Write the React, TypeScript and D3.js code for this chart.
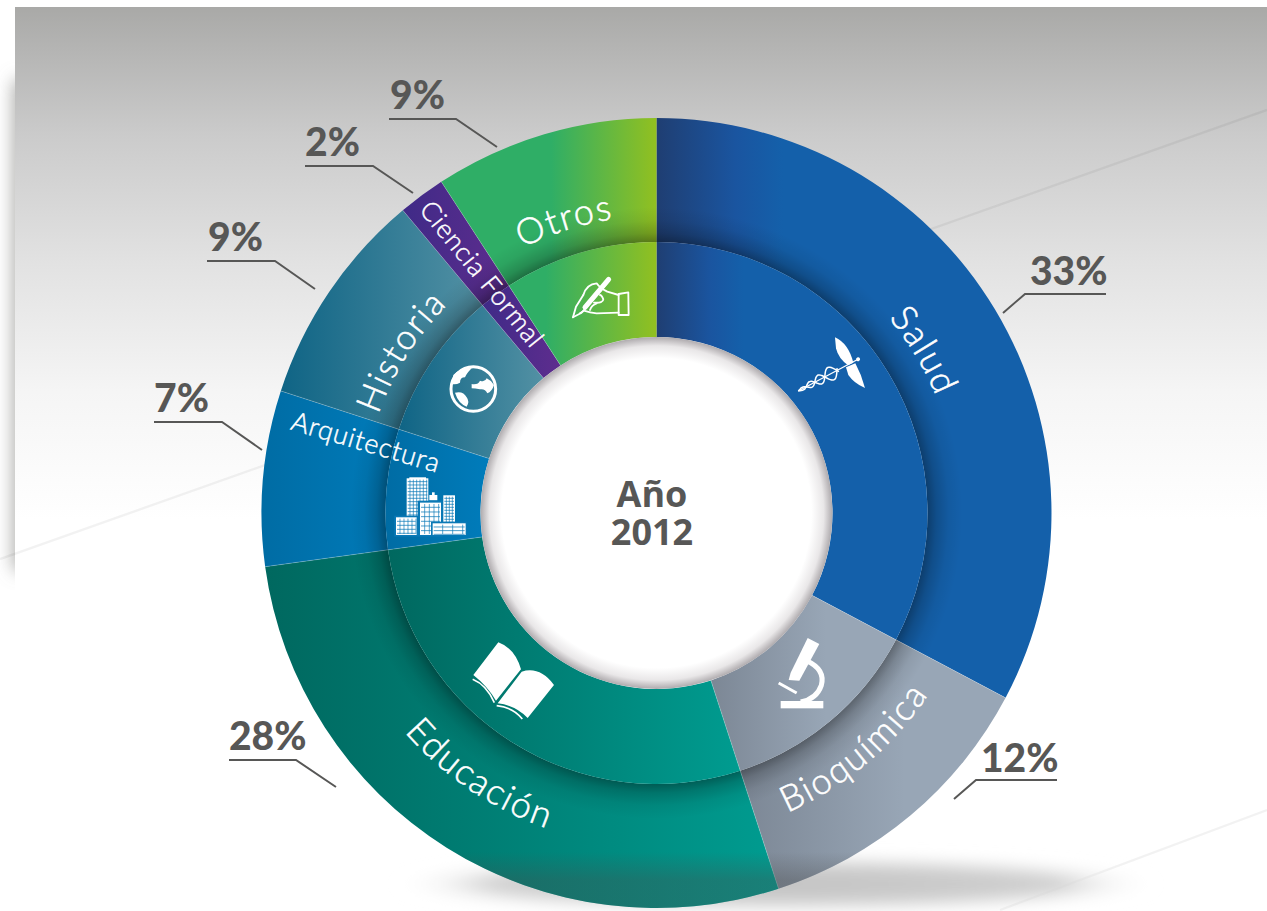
import React from "react";
import * as d3 from "d3";

const categories = ["Salud", "Bioquímica", "Educación", "Arquitectura", "Historia", "Ciencia Formal", "Otros"];
const values = [32.75, 12.25, 27.83, 7.17, 8.9, 1.93, 9.17];
const centerLines = ["Año", "2012"];

const gradStart = ["#1f3e72", "#7c8795", "#00685f", "#006ca4", "#0f6485", "#3f2a87", "#2fae66"];
const gradEnd = ["#1460aa", "#98a6b6", "#009c90", "#007cbb", "#5391a4", "#5e2d8e", "#92c020"];
const gradMid = [0.32, 0.62, 1, 1, 1, 1, 1];

const W = 1267, H = 911, CX = 656.5, CY = 513;
const R_OUT = 395, R_MID = 271, R_IN = 176;

const curved = [
  { i: 0, r: 303, deg: 58.8, flip: false, size: 36 },
  { i: 1, r: 327, deg: 140.0, flip: true, size: 36 },
  { i: 2, r: 334, deg: 214.0, flip: true, size: 36 },
  { i: 4, r: 295, deg: 302.3, flip: false, size: 35 },
  { i: 6, r: 297, deg: 342.5, flip: false, size: 36 },
];
const straight = [
  { i: 3, x: 366, y: 442, rot: 16.5, size: 27 },
  { i: 5, x: 482, y: 274, rot: 51, size: 26.5 },
];
const leaders = [
  { i: 0, pts: [[1003, 313], [1025, 294], [1106, 294]], tx: 1030, ty: 285 },
  { i: 1, pts: [[954, 799], [976, 780], [1057, 780]], tx: 981, ty: 772 },
  { i: 2, pts: [[229, 760], [296, 760], [336, 787]], tx: 229, ty: 750 },
  { i: 3, pts: [[154, 422], [222, 422], [262, 450]], tx: 154, ty: 412 },
  { i: 4, pts: [[207, 261], [275, 261], [315, 289]], tx: 208, ty: 251 },
  { i: 5, pts: [[305, 166], [373, 166], [413, 193]], tx: 305, ty: 156 },
  { i: 6, pts: [[389, 119], [456, 119], [497, 147]], tx: 390, ty: 109 },
];

const pie = d3.pie<number>().sort(null).value((d) => d);
const arcs = pie(values);
const outerArc = d3.arc<any>().innerRadius(R_MID).outerRadius(R_OUT);
const innerArc = d3.arc<any>().innerRadius(R_IN).outerRadius(R_MID);
const lineGen = d3.line();

function arcLabelPath(r: number, deg: number, flip: boolean) {
  const mid = ((deg - 90) * Math.PI) / 180;
  const span = 1.0;
  const p = d3.path();
  if (!flip) {
    p.moveTo(r * Math.cos(mid - span), r * Math.sin(mid - span));
    p.arc(0, 0, r, mid - span, mid + span, false);
  } else {
    p.moveTo(r * Math.cos(mid + span), r * Math.sin(mid + span));
    p.arc(0, 0, r, mid + span, mid - span, true);
  }
  return p.toString();
}

function Book() {
  return (
    <g transform="translate(460,630) scale(0.3333)" fill="#fff" stroke="none">
      <path d="M115 37 Q165 55 183 118 L108 212 Q82 168 40 135 Z" />
      <path d="M185 125 Q240 108 282 165 L203 264 Q165 226 113 220 Z" />
      <path d="M38 148 Q80 165 103 218" fill="none" stroke="#fff" strokeWidth="5" />
      <path d="M110 227 Q160 232 187 267" fill="none" stroke="#fff" strokeWidth="5" />
    </g>
  );
}

function Microscope() {
  return (
    <g transform="translate(760,650) scale(0.3333)" fill="#fff">
      <rect x="62" y="153" width="128" height="22" />
      <path d="M140 32 Q197 58 184 106 Q170 147 122 156" fill="none" stroke="#fff" strokeWidth="15" />
      <path d="M143 -36 L178 -18 L118 92 L86 90 L92 68 Z" />
      <path d="M56 99 L110 129" stroke="#fff" strokeWidth="9" fill="none" />
    </g>
  );
}

function Caduceus() {
  const a: [number, number][] = [];
  const b: [number, number][] = [];
  for (let x = 0; x <= 135; x += 3) {
    const amp = 2 + x * 0.17;
    const y = amp * Math.sin(x * 0.125 * (1 - x / 560));
    a.push([x, y]);
    b.push([x, -y]);
  }
  const l = d3.line().curve(d3.curveCatmullRom);
  return (
    <g transform="translate(780,320) scale(0.3333)" fill="#fff">
      <path d="M165 52 Q205 70 220 128 L204 136 Q175 115 168 85 Z" />
      <path d="M198 142 L226 130 Q245 165 255 204 Q222 190 205 165 Z" />
      <g transform="translate(55,213) rotate(-28)">
        <path d={l(a) || ""} fill="none" stroke="#fff" strokeWidth="4.5" />
        <path d={l(b) || ""} fill="none" stroke="#fff" strokeWidth="4.5" />
        <path d="M0 0 L203 0" stroke="#fff" strokeWidth="4" />
        <circle cx="203" cy="0" r="6" />
      </g>
    </g>
  );
}

function Globe() {
  return (
    <g transform="translate(370,260) scale(0.3333)" fill="#fff">
      <circle cx="310" cy="387" r="67" fill="none" stroke="#fff" strokeWidth="9" />
      <path d="M250 345 Q275 320 305 325 Q290 340 285 352 Q270 352 270 368 Q258 375 245 372 Z" />
      <path d="M305 372 Q325 375 330 362 Q345 368 350 355 Q362 360 372 375 Q366 395 352 400 Q345 385 330 388 Q315 385 305 385Z" />
      <path d="M255 398 Q280 392 290 412 Q300 425 290 440 Q265 430 255 398Z" />
    </g>
  );
}

function Block({ x, y, w, h, stepX, stepY, color }: any) {
  const xs = d3.range(x + stepX, x + w - 1, stepX);
  const ys = d3.range(y + stepY, y + h - 1, stepY);
  return (
    <g>
      <rect x={x} y={y} width={w} height={h} fill="#fff" />
      {xs.map((v) => <line key={"x" + v} x1={v} x2={v} y1={y + 4} y2={y + h - 3} stroke={color} strokeWidth="2" />)}
      {ys.map((v) => <line key={"y" + v} x1={x + 3} x2={x + w - 3} y1={v} y2={v} stroke={color} strokeWidth="2.2" />)}
    </g>
  );
}

function Buildings() {
  const c = "#0a79b6";
  return (
    <g transform="translate(370,260) scale(0.3333)">
      <Block x={110} y={655} w={65} h={120} stepX={10} stepY={10} color={c} />
      <rect x="118" y="652" width="50" height="5" fill="#fff" />
      <Block x={220} y={706} w={35} h={85} stepX={9} stepY={9} color={c} />
      <rect x="178" y="705" width="24" height="16" fill="#fff" />
      <rect x="186" y="697" width="8" height="8" fill="#fff" />
      <rect x="143" y="722" width="75" height="108" fill={c} />
      <Block x={150} y={728} w={63} h={97} stepX={14} stepY={14} color={c} />
      <rect x="73" y="767" width="72" height="63" fill={c} />
      <Block x={78} y={772} w={62} h={53} stepX={12} stepY={12} color={c} />
      <rect x="183" y="785" width="108" height="42" fill={c} />
      <Block x={188} y={790} w={99} h={35} stepX={30} stepY={11} color={c} />
    </g>
  );
}

function Hand() {
  return (
    <g transform="translate(370,260) scale(0.3333)" fill="none" stroke="#fff" strokeWidth="5.5" strokeLinejoin="round" strokeLinecap="round">
      <path d="M609 172 L635 158 L718 62" strokeWidth="5" />
      <path d="M645 142 L716 58" strokeWidth="15" />
      <path d="M609 172 L618 140 L640 105" />
      <path d="M640 105 Q650 72 680 70 Q690 85 712 95 L746 105" />
      <path d="M746 158 L680 160 Q660 158 642 152 L630 160" />
      <path d="M672 128 Q700 130 700 118 Q695 105 690 105" />
      <path d="M660 150 Q665 135 680 130" />
      <path d="M746 102 L775 97 L776 165 L746 165 Z" />
    </g>
  );
}

export default function App() {
  return (
    <svg width={W} height={H} viewBox={`0 0 ${W} ${H}`} style={{ position: "absolute", left: 0, top: 0, display: "block", background: "#fff" }}>
      <defs>
        <linearGradient id="panel" x1="0" x2="0" y1="7" y2="520" gradientUnits="userSpaceOnUse">
          <stop offset="0" stopColor="#a9a9a7" />
          <stop offset="0.08" stopColor="#b4b4b3" />
          <stop offset="0.25" stopColor="#cbcbcb" />
          <stop offset="0.5" stopColor="#e2e2e2" />
          <stop offset="0.75" stopColor="#f5f5f5" />
          <stop offset="1" stopColor="#ffffff" />
        </linearGradient>
        <filter id="blur12" x="-300%" y="-20%" width="700%" height="140%"><feGaussianBlur stdDeviation="9" /></filter>
        <filter id="blurE" x="-20%" y="-80%" width="140%" height="260%"><feGaussianBlur stdDeviation="8" /></filter>
        {arcs.map((_, i) => (
          <linearGradient key={i} id={`g${i}`} x1="0" x2="1" y1="0" y2="0">
            <stop offset="0" stopColor={gradStart[i]} />
            <stop offset={i === 6 ? 0.51 : 0} stopColor={gradStart[i]} />
            {i === 0 && <stop offset="0.2" stopColor="#1a55a0" />}
            <stop offset={gradMid[i]} stopColor={gradEnd[i]} />
          </linearGradient>
        ))}
        <linearGradient id="g6inner" x1="0" x2="1" y1="0" y2="0">
          <stop offset="0" stopColor={gradStart[6]} />
          <stop offset="0.25" stopColor={gradStart[6]} />
          <stop offset="1" stopColor={gradEnd[6]} />
        </linearGradient>
        <radialGradient id="ringShadow" gradientUnits="userSpaceOnUse" cx={0} cy={0} r={306}>
          <stop offset={R_MID / 306} stopColor="#000" stopOpacity="0.36" />
          <stop offset="0.915" stopColor="#000" stopOpacity="0.19" />
          <stop offset="0.955" stopColor="#000" stopOpacity="0.06" />
          <stop offset="1" stopColor="#000" stopOpacity="0" />
        </radialGradient>
        <radialGradient id="hole" gradientUnits="userSpaceOnUse" cx={0} cy={0} r={R_IN}>
          <stop offset="0.88" stopColor="#fff" />
          <stop offset="0.95" stopColor="#e9e7e8" />
          <stop offset="1" stopColor="#aeaaad" />
        </radialGradient>
        <radialGradient id="ground">
          <stop offset="0" stopColor="#c2c2c2" />
          <stop offset="0.75" stopColor="#cfcfcf" />
          <stop offset="1" stopColor="#ffffff" stopOpacity="0" />
        </radialGradient>
        <linearGradient id="bottomShade" gradientUnits="userSpaceOnUse" x1="0" x2="0" y1="852" y2="880">
          <stop offset="0" stopColor="#4a4a4a" stopOpacity="0" />
          <stop offset="1" stopColor="#4a4a4a" stopOpacity="0.34" />
        </linearGradient>
        <clipPath id="disc"><circle cx={CX} cy={CY} r={R_OUT} /></clipPath>
        {curved.map((c) => (
          <path key={c.i} id={`lp${c.i}`} d={arcLabelPath(c.r, c.deg, c.flip)} />
        ))}
      </defs>

      {/* backdrop */}
      <rect x={15} y={80} width={12} height={490} fill="#8c8c88" filter="url(#blur12)" />
      <rect x={15} y={7} width={W - 15} height={H - 7} fill="url(#panel)" />
      <line x1={0} y1={559} x2={W} y2={110} stroke="#000" strokeOpacity="0.05" strokeWidth="2.4" />
      <line x1={1000} y1={910} x2={W} y2={810} stroke="#000" strokeOpacity="0.05" strokeWidth="2.4" />
      <ellipse cx={776} cy={884} rx={385} ry={27} fill="url(#ground)" filter="url(#blurE)" />

      {/* rings */}
      <g transform={`translate(${CX},${CY})`}>
        {arcs.map((a, i) => <path key={i} d={outerArc(a) || ""} fill={`url(#g${i})`} />)}
        <path d={d3.arc()({ innerRadius: R_MID, outerRadius: 306, startAngle: 0, endAngle: 2 * Math.PI }) || ""} fill="url(#ringShadow)" />
        {arcs.map((a, i) => <path key={i} d={innerArc(a) || ""} fill={i === 6 ? "url(#g6inner)" : `url(#g${i})`} />)}
        {arcs.slice(1).map((a, i) => {
          const t = a.startAngle - Math.PI / 2;
          return (
            <line key={i} x1={R_IN * Math.cos(t)} y1={R_IN * Math.sin(t)} x2={R_OUT * Math.cos(t)} y2={R_OUT * Math.sin(t)}
              stroke="#fff" strokeOpacity="0.28" strokeWidth="0.8" />
          );
        })}
      </g>
      <rect x={0} y={852} width={W} height={60} fill="url(#bottomShade)" clipPath="url(#disc)" />

      {/* hole */}
      <circle cx={0} cy={0} r={R_IN} fill="url(#hole)" transform={`translate(${CX},${CY})`} />
      <text textAnchor="middle" fontFamily="'Open Sans'" fontWeight="700" fontSize="36" fill="#575756">
        <tspan x={652} y={506.5}>{centerLines[0]}</tspan>
        <tspan x={652} y={544.5}>{centerLines[1]}</tspan>
      </text>

      {/* icons */}
      <Caduceus /><Microscope /><Book /><Buildings /><Globe /><Hand />

      {/* slice labels */}
      <g transform={`translate(${CX},${CY})`} fontFamily="Lato" fontWeight="300" fill="#fff" stroke="#fff" strokeWidth="0.55">
        {curved.map((c) => (
          <text key={c.i} fontSize={c.size} letterSpacing="1.8">
            <textPath href={`#lp${c.i}`} startOffset="50%" textAnchor="middle">{categories[c.i]}</textPath>
          </text>
        ))}
      </g>
      <g fontFamily="Lato" fontWeight="300" fill="#fff" stroke="#fff" strokeWidth="0.45">
        {straight.map((s) => (
          <text key={s.i} textAnchor="middle" fontSize={s.size} transform={`translate(${s.x},${s.y}) rotate(${s.rot})`} dy="0.35em" letterSpacing="0.8">
            {categories[s.i]}
          </text>
        ))}
      </g>

      {/* leaders */}
      {leaders.map((l) => (
        <g key={l.i}>
          <path d={lineGen(l.pts as [number, number][]) || ""} fill="none" stroke="#575756" strokeWidth="2" />
          <text x={l.tx} y={l.ty} fontFamily="Lato" fontWeight="900" fontSize="39" fill="#575756">{Math.round(values[l.i])}%</text>
        </g>
      ))}
    </svg>
  );
}
